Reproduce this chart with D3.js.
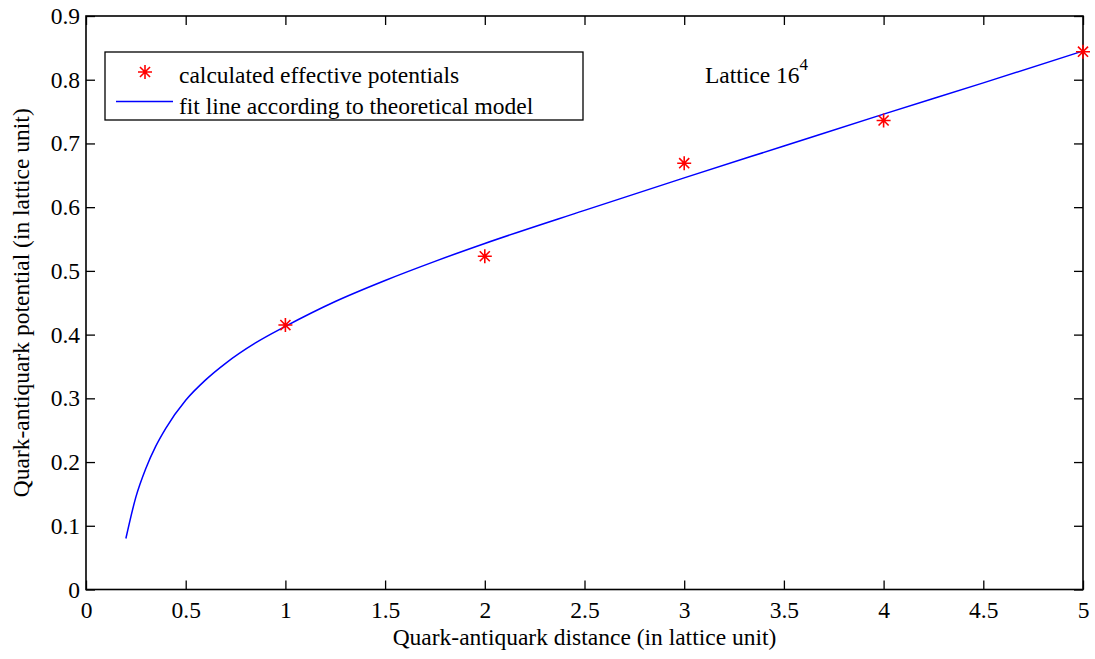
<!DOCTYPE html>
<html>
<head>
<meta charset="utf-8">
<script src="https://cdn.jsdelivr.net/npm/d3@7"></script>
<style>
  body { margin: 0; background: #fff; }
  svg text { font-family: "Liberation Serif", "Times New Roman", serif; fill: #000; }
</style>
</head>
<body>
<svg id="chart" width="1095" height="659"></svg>
<script>
// measured potentials
var distances = [1, 2, 3, 4, 5];
var potentials = [0.415, 0.523, 0.669, 0.736, 0.844];

// fit line
var fitX = [0.2, 0.25, 0.3, 0.35, 0.4, 0.5, 0.6, 0.7, 0.85, 1, 1.25, 1.5, 1.75, 2, 2.5, 3, 3.5, 4, 4.5, 5];
var fitY = [0.080, 0.145, 0.190, 0.225, 0.253, 0.297, 0.329, 0.355, 0.387, 0.413, 0.452, 0.485, 0.515, 0.543, 0.595, 0.646, 0.696, 0.746, 0.795, 0.845];

var xTicks = [0, 0.5, 1, 1.5, 2, 2.5, 3, 3.5, 4, 4.5, 5];
var yTicks = [0, 0.1, 0.2, 0.3, 0.4, 0.5, 0.6, 0.7, 0.8, 0.9];

var svg = d3.select("#chart");
var mLeft = 86, mRight = 1083, mTop = 16, mBottom = 589.5;
var fs = 23.5;

var x = d3.scaleLinear().domain([0, 5]).range([mLeft, mRight]);
var y = d3.scaleLinear().domain([0, 0.9]).range([mBottom, mTop]);

// axes, ticks pointing in
svg.append("g")
  .attr("transform", "translate(0," + mBottom + ")")
  .call(d3.axisBottom(x).tickValues(xTicks).tickFormat(d => String(d))
    .tickSizeInner(-9).tickSizeOuter(0).tickPadding(12));
svg.append("g")
  .attr("transform", "translate(0," + mTop + ")")
  .call(d3.axisTop(x).tickValues(xTicks).tickFormat("")
    .tickSizeInner(-9).tickSizeOuter(0));
svg.append("g")
  .attr("transform", "translate(" + mLeft + ",0)")
  .call(d3.axisLeft(y).tickValues(yTicks).tickFormat(d => String(d))
    .tickSizeInner(-9).tickSizeOuter(0).tickPadding(6));
svg.append("g")
  .attr("transform", "translate(" + mRight + ",0)")
  .call(d3.axisRight(y).tickValues(yTicks).tickFormat("")
    .tickSizeInner(-9).tickSizeOuter(0));

svg.selectAll(".domain").remove();
svg.selectAll(".tick line").attr("stroke", "#000").attr("stroke-width", 1.3);
svg.selectAll(".tick text").attr("font-size", fs).attr("font-family", null);

svg.append("rect")
  .attr("x", mLeft).attr("y", mTop)
  .attr("width", mRight - mLeft).attr("height", mBottom - mTop)
  .attr("fill", "none").attr("stroke", "#000").attr("stroke-width", 1.6);

// fit curve
var fitData = fitX.map((d, i) => [d, fitY[i]]);
svg.append("path")
  .datum(fitData)
  .attr("fill", "none")
  .attr("stroke", "#0000ff")
  .attr("stroke-width", 1.5)
  .attr("d", d3.line().x(d => x(d[0])).y(d => y(d[1])).curve(d3.curveMonotoneX));

// asterisk marker
function star(g, cx, cy, r) {
  var d = "";
  var r2 = r * 0.72;
  d += "M" + (cx - r) + "," + cy + "L" + (cx + r) + "," + cy;
  d += "M" + cx + "," + (cy - r) + "L" + cx + "," + (cy + r);
  d += "M" + (cx - r2) + "," + (cy - r2) + "L" + (cx + r2) + "," + (cy + r2);
  d += "M" + (cx - r2) + "," + (cy + r2) + "L" + (cx + r2) + "," + (cy - r2);
  g.append("path").attr("d", d).attr("stroke", "#ff0000").attr("stroke-width", 1.6).attr("fill", "none");
}

var pts = svg.append("g");
distances.forEach((d, i) => star(pts, x(d), y(potentials[i]), 7));

// legend
var lg = svg.append("g");
lg.append("rect")
  .attr("x", 105).attr("y", 52).attr("width", 478).attr("height", 68)
  .attr("fill", "#fff").attr("stroke", "#000").attr("stroke-width", 1.3);
star(lg, 145, 72, 7);
lg.append("text").attr("x", 179).attr("y", 83).attr("font-size", fs)
  .text("calculated effective potentials");
lg.append("line").attr("x1", 116).attr("x2", 173).attr("y1", 101.5).attr("y2", 101.5)
  .attr("stroke", "#0000ff").attr("stroke-width", 1.5);
lg.append("text").attr("x", 179).attr("y", 114).attr("font-size", fs)
  .text("fit line according to theoretical model");

// annotation
var ann = svg.append("text").attr("x", 705).attr("y", 83).attr("font-size", fs);
ann.append("tspan").text("Lattice 16");
ann.append("tspan").attr("dy", -13).attr("font-size", 17).text("4");

// axis titles
svg.append("text")
  .attr("x", (mLeft + mRight) / 2).attr("y", 645)
  .attr("text-anchor", "middle").attr("font-size", fs)
  .text("Quark-antiquark distance (in lattice unit)");
svg.append("text")
  .attr("transform", "translate(29," + ((mTop + mBottom) / 2) + ") rotate(-90)")
  .attr("text-anchor", "middle").attr("font-size", fs)
  .text("Quark-antiquark potential (in lattice unit)");
</script>
</body>
</html>
